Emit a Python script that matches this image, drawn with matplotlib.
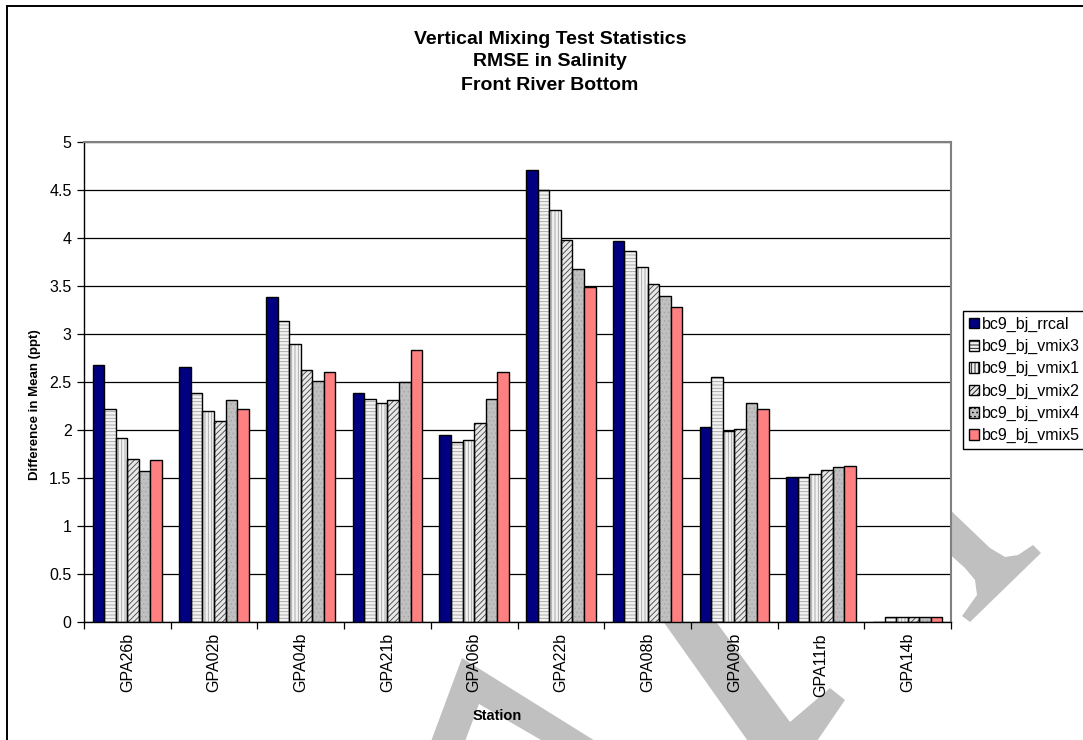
import numpy as np
import matplotlib
matplotlib.use("Agg")
import matplotlib.pyplot as plt
from matplotlib.patches import Polygon
from matplotlib.lines import Line2D

plt.rcParams['font.family'] = ['Liberation Sans', 'DejaVu Sans']
plt.rcParams['hatch.linewidth'] = 0.6

# stations and RMSE per run
stations = ['GPA26b', 'GPA02b', 'GPA04b', 'GPA21b', 'GPA06b',
            'GPA22b', 'GPA08b', 'GPA09b', 'GPA11rb', 'GPA14b']
runs = ['bc9_bj_rrcal', 'bc9_bj_vmix3', 'bc9_bj_vmix1',
        'bc9_bj_vmix2', 'bc9_bj_vmix4', 'bc9_bj_vmix5']

rrcal = [2.68, 2.66, 3.39, 2.39, 1.95, 4.71, 3.97, 2.03, 1.51, 0.0]
vmix3 = [2.22, 2.39, 3.14, 2.32, 1.87, 4.50, 3.86, 2.55, 1.51, 0.05]
vmix1 = [1.92, 2.20, 2.90, 2.28, 1.90, 4.29, 3.70, 1.99, 1.54, 0.05]
vmix2 = [1.70, 2.09, 2.62, 2.31, 2.07, 3.98, 3.52, 2.01, 1.58, 0.05]
vmix4 = [1.57, 2.31, 2.51, 2.50, 2.32, 3.68, 3.40, 2.28, 1.61, 0.05]
vmix5 = [1.69, 2.22, 2.60, 2.83, 2.60, 3.49, 3.28, 2.22, 1.63, 0.05]
series = [rrcal, vmix3, vmix1, vmix2, vmix4, vmix5]

# (face, hatch, hatch colour) per run, excel-ish fills
styles = [
    ('#000080', None, None),
    ('#F2F2F2', '-----', '#A0A0A0'),
    ('#F2F2F2', '|||||', '#A0A0A0'),
    ('#E8E8E8', '//////', '#404040'),
    ('#C0C0C0', '....', '#A8A8A8'),
    ('#FF8080', None, None),
]

W, H = 1083, 740
fig = plt.figure(figsize=(W / 100, H / 100), dpi=100)


def fx(px):
    return px / W


def fy(py):
    return 1 - py / H


# grey scribble behind the chart
marks = [
    [(462, 658), (600, 744), (548, 744), (479, 704), (464, 744), (430, 744)],
    [(648, 600), (700, 600), (790, 722), (830, 688), (845, 700), (815, 744), (750, 744)],
    [(945, 505), (990, 548), (1005, 557), (1018, 555), (1033, 545), (1041, 553),
     (970, 622), (962, 616), (977, 595), (975, 580), (965, 568), (945, 550)],
]
for pts in marks:
    fig.add_artist(Polygon([(fx(x), fy(y)) for x, y in pts], closed=True,
                           transform=fig.transFigure, facecolor='#C0C0C0',
                           edgecolor='none', zorder=-5))

# outer chart frame (left and top edges)
fig.add_artist(Line2D([fx(7), fx(7)], [fy(6), 0], transform=fig.transFigure,
                      color='black', lw=1.4))
fig.add_artist(Line2D([fx(7), 1], [fy(6), fy(6)], transform=fig.transFigure,
                      color='black', lw=1.4))

ax = fig.add_axes([fx(84), fy(622), (951 - 84) / W, (622 - 142) / H])
ax.set_facecolor('white')

x = np.arange(len(stations))
bw = 1 / 7.5
for i, (vals, (fc, hatch, hc)) in enumerate(zip(series, styles)):
    pos = x + (i - 2.5) * bw
    if hatch:
        ax.bar(pos, vals, bw, color=fc, edgecolor=hc, hatch=hatch,
               linewidth=0, zorder=2)
        ax.bar(pos, vals, bw, facecolor='none', edgecolor='black',
               linewidth=1.0, zorder=3)
    else:
        ax.bar(pos, vals, bw, color=fc, edgecolor='black', linewidth=1.0,
               zorder=3)

ax.set_xlim(-0.5, len(stations) - 0.5)
ax.set_ylim(0, 5)
ax.set_yticks(np.arange(0, 5.01, 0.5))
ax.set_yticklabels(['0', '0.5', '1', '1.5', '2', '2.5', '3', '3.5', '4', '4.5', '5'])
ax.yaxis.grid(True, color='black', linewidth=0.9)
ax.set_axisbelow(True)

ax.set_xticks(x)
ax.set_xticklabels(stations, rotation=90)
ax.set_xticks(np.arange(-0.5, len(stations)), minor=True)
ax.tick_params(axis='x', which='major', length=0, pad=8, labelsize=11.5)
ax.tick_params(axis='x', which='minor', length=5, direction='out', width=0.9)
ax.tick_params(axis='y', length=5, direction='out', width=0.9, labelsize=11.5, pad=4)

for side in ('top', 'right'):
    ax.spines[side].set_color('#808080')
    ax.spines[side].set_linewidth(1.5)
for side in ('left', 'bottom'):
    ax.spines[side].set_color('black')
    ax.spines[side].set_linewidth(1.0)

fig.text(fx(35), fy(405), 'Difference in Mean (ppt)', rotation=90,
         ha='center', va='center', fontsize=9.5, fontweight='bold')
fig.text(fx(497), fy(716), 'Station', ha='center', va='center',
         fontsize=10.5, fontweight='bold')

for txt, ypx in [('Vertical Mixing Test Statistics', 39),
                 ('RMSE in Salinity', 62),
                 ('Front River Bottom', 85)]:
    fig.text(fx(550), fy(ypx), txt, ha='center', va='center',
             fontsize=14, fontweight='bold')

# legend proxies with the same fills
handles = []
for fc, hatch, hc in styles:
    handles.append(plt.Rectangle((0, 0), 1, 1, facecolor=fc,
                                 edgecolor='black', hatch=hatch, linewidth=1.0))
leg = fig.legend(handles, runs, loc='upper left',
                 bbox_to_anchor=(fx(963), fy(311)), fontsize=11.5,
                 frameon=True, fancybox=False, framealpha=1,
                 handlelength=0.65, handleheight=0.65, handletextpad=0.2,
                 labelspacing=0.45, borderpad=0.35, borderaxespad=0)
leg.get_frame().set_edgecolor('black')
leg.get_frame().set_linewidth(1.0)

fig.savefig('out.png', dpi=100)
